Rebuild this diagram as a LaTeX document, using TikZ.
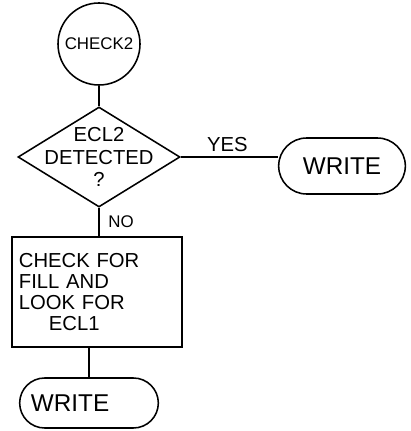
\documentclass[tikz,border=0pt]{standalone}
\usepackage{fontspec}
\setmainfont{Liberation Sans}
\usetikzlibrary{shapes.geometric, shapes.misc, positioning}

\begin{document}
\begin{tikzpicture}[x=0.025cm, y=-0.025cm,
		fc_conn/.style     = {draw, circle, line width=1.1pt, minimum size=2.05cm,
			inner sep=0pt, font=\large},
		fc_dec/.style      = {draw, diamond, line width=1.1pt, inner sep=-0.35cm,
			minimum width=4.05cm, minimum height=2.5cm, shape aspect=1.62,
			align=center, font=\Large,
			execute at begin node=\setlength{\baselineskip}{14pt}},
		fc_proc/.style     = {draw, rectangle, line width=1.1pt, minimum width=4.25cm,
			minimum height=2.75cm, text width=3.9cm, align=left, font=\Large,
			execute at begin node=\setlength{\baselineskip}{15pt}},
		fc_term/.style     = {draw, rounded rectangle, line width=1.1pt, align=left,
			font=\LARGE},
		line/.style        = {line width=1.1pt, font=\Large}
		]
		\useasboundingbox (0,0) rectangle (411,431);
		
		\node[fc_conn] (check2) at (99,44) {CHECK2};
		\node[fc_dec] (dec) at (99,157) {ECL2\\[2pt]DETECTED\\[2pt]?};
		\node[fc_term, minimum width=3.4cm, minimum height=1.4cm]
		(write1) at (342,166) {WRITE};
		\node[fc_proc] (chk) at (97,292)
		{CHECK FOR\\FILL AND\\LOOK FOR\\\hspace*{0.75cm}ECL1};
		\node[fc_term, minimum width=3.7cm, minimum height=1.25cm, text width=2.9cm]
		(write2) at (89,403) {WRITE};
		
		\draw[line] (check2.south) -- (dec.north);
		\draw[line] (dec.east) -- node[above, xshift=-0.05cm]{YES} (dec.east -| write1.west);
		\draw[line] (dec.south) -- node[right, xshift=0.1cm, font=\large]{NO} (dec.south |- chk.north);
		\draw[line] (chk.south -| write2.north) -- (write2.north);
	\end{tikzpicture}
\end{document}
